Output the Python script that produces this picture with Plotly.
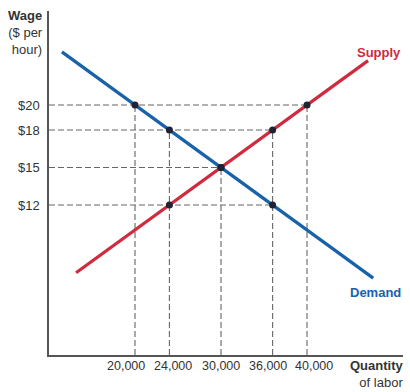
import plotly.graph_objects as go

# ---- data ----
wage_ticks = [20, 18, 15, 12]
wage_tick_labels = ["$20", "$18", "$15", "$12"]
quantity_ticks = [20000, 24000, 30000, 36000, 40000]
quantity_tick_labels = ["20,000", "24,000", "30,000", "36,000", "40,000"]

demand_q = [11500, 47700]
demand_w = [24.25, 6.15]
supply_q = [13150, 47100]
supply_w = [6.575, 23.55]

demand_pts_q = [20000, 24000, 30000, 36000]
demand_pts_w = [20, 18, 15, 12]
supply_pts_q = [24000, 30000, 36000, 40000]
supply_pts_w = [12, 15, 18, 20]

X_MIN, X_MAX = 10000, 51160
Y_MIN, Y_MAX = 0, 27.52

BLUE = "#1862ab"
RED = "#cf2a3e"
DOT = "#1f2233"
DASH = "#666666"
FONT = "Liberation Sans, Arial, sans-serif"

fig = go.Figure()

all_q = demand_pts_q + supply_pts_q
all_w = demand_pts_w + supply_pts_w

# horizontal dashed guides: from y-axis to farthest point at that wage
for w in wage_ticks:
    qmax = max(q for q, ww in zip(all_q, all_w) if ww == w)
    fig.add_trace(go.Scatter(x=[X_MIN, qmax], y=[w, w], mode="lines",
                             line=dict(color=DASH, width=1.1, dash="6px,3px"),
                             hoverinfo="skip", showlegend=False))
# vertical dashed guides: from x-axis up to highest point at that quantity
for q in quantity_ticks:
    wmax = max(ww for qq, ww in zip(all_q, all_w) if qq == q)
    fig.add_trace(go.Scatter(x=[q, q], y=[Y_MIN, wmax], mode="lines",
                             line=dict(color=DASH, width=1.1, dash="6px,3px"),
                             hoverinfo="skip", showlegend=False))

fig.add_trace(go.Scatter(x=supply_q, y=supply_w, mode="lines",
                         line=dict(color=RED, width=3.2), showlegend=False))
fig.add_trace(go.Scatter(x=demand_q, y=demand_w, mode="lines",
                         line=dict(color=BLUE, width=3.2), showlegend=False))

fig.add_trace(go.Scatter(x=all_q, y=all_w, mode="markers",
                         marker=dict(color=DOT, size=7), showlegend=False))

# x tick labels (shifted slightly as in the original so they don't collide)
x_label_shift = [-9, 4, 0, -5, 7]
for q, lab, sh in zip(quantity_ticks, quantity_tick_labels, x_label_shift):
    fig.add_annotation(x=q, y=Y_MIN, xref="x", yref="y", text=lab,
                       showarrow=False, xanchor="center", yanchor="top",
                       xshift=sh, yshift=-2,
                       font=dict(family=FONT, size=12.5, color="#333333"))

fig.add_annotation(x=1, y=0, xref="paper", yref="paper",
                   text="<b>Quantity</b><br>of labor", showarrow=False,
                   xanchor="right", yanchor="top", align="right", yshift=-1,
                   xshift=2,
                   font=dict(family=FONT, size=13, color="#333333"))
fig.add_annotation(x=0, y=1, xref="paper", yref="paper",
                   text="<b>Wage</b><br>($ per<br>hour)", showarrow=False,
                   xanchor="right", yanchor="top", align="right",
                   xshift=-4, yshift=5,
                   font=dict(family=FONT, size=13, color="#333333"))

fig.add_annotation(x=48372, y=24.24, xref="x", yref="y", text="<b>Supply</b>",
                   showarrow=False, font=dict(family=FONT, size=13, color=RED))
fig.add_annotation(x=47907, y=5.04, xref="x", yref="y", text="<b>Demand</b>",
                   showarrow=False, font=dict(family=FONT, size=13, color=BLUE))

fig.update_xaxes(range=[X_MIN, X_MAX], showgrid=False, zeroline=False,
                 showline=True, linecolor="#555555", linewidth=1.5,
                 showticklabels=False, ticks="")
fig.update_yaxes(range=[Y_MIN, Y_MAX], showgrid=False, zeroline=False,
                 showline=True, linecolor="#555555", linewidth=1.5,
                 tickvals=wage_ticks, ticktext=wage_tick_labels, ticks="",
                 ticklabelstandoff=5,
                 tickfont=dict(family=FONT, size=13, color="#333333"))

fig.update_layout(width=410, height=392,
                  margin=dict(l=49, r=7, t=11, b=37),
                  plot_bgcolor="white", paper_bgcolor="white",
                  showlegend=False)

fig.write_html("out.html")
